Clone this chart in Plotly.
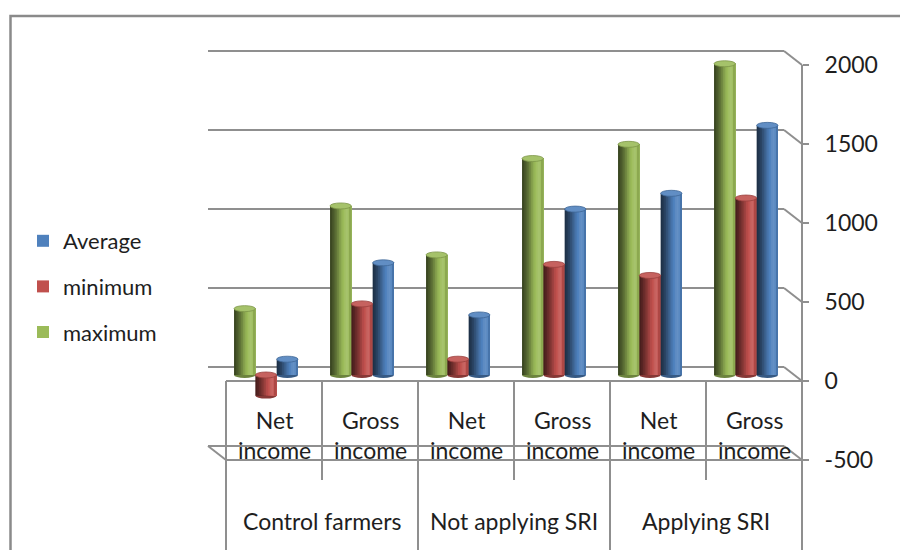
import plotly.graph_objects as go

# ---- data -------------------------------------------------------------
GROUPS = ["Control farmers", "Not applying SRI", "Applying SRI"]
ITEMS = ["Net income", "Gross income", "Net income", "Gross income", "Net income", "Gross income"]
maximum = [420, 1070, 760, 1370, 1460, 1970]
minimum = [-130, 450, 100, 700, 630, 1120]
average = [100, 710, 380, 1050, 1150, 1580]
TICKS = [-500, 0, 500, 1000, 1500, 2000]

SERIES = [
    ("maximum", maximum, "#9BBB59", 3),
    ("minimum", minimum, "#C0504D", 2),
    ("Average", average, "#4F81BD", 1),
]

# ---- geometry of the pseudo-3D box (pixels) ---------------------------
W, H = 900, 550
PX = 79 / 500            # pixels per value unit (vertical)
CELL = 96                # pixels per category
FRONT_X0 = 226           # left edge of the front plane
BAR_X0 = 218             # left edge of the bar plane (mid depth)
FRONT_ZERO, BAR_ZERO = 381, 375
DX = 18 / CELL           # depth of the box, in category units
DY = 14 / PX             # depth of the box, in value units

GRID = "#8f8f8f"
TXT = "#1e1e1e"
FONT = "Lato"
FS = 23
N = len(ITEMS)
pos = list(range(N))


def ydom(zero_px, lo, hi):
    return [(H - (zero_px - lo * PX)) / H, (H - (zero_px - hi * PX)) / H]


def shade(hexcol, f):
    r, g, b = (int(hexcol[i:i + 2], 16) for i in (1, 3, 5))
    if f <= 1:
        r, g, b = r * f, g * f, b * f
    else:
        t = f - 1
        r, g, b = r + (255 - r) * t, g + (255 - g) * t, b + (255 - b) * t
    return "rgb(%d,%d,%d)" % (round(r), round(g), round(b))


fig = go.Figure()
shapes = []

# ---- box frame: back wall gridlines, side connectors, front table ------
front_lo = -(H - FRONT_ZERO) / PX
row_bottom = -(480 - FRONT_ZERO) / PX
line = dict(color=GRID, width=2)


def fline(x0, y0, x1, y1):
    shapes.append(dict(type="line", xref="x", yref="y", layer="below",
                       x0=x0, y0=y0, x1=x1, y1=y1, line=line))


for t in TICKS:
    fline(-0.5 - DX, t + DY, N - 0.5 - DX, t + DY)     # back wall
    fline(N - 0.5 - DX, t + DY, N - 0.5, t)             # side wall
fline(-0.5 - DX, TICKS[0] + DY, -0.5, TICKS[0])         # floor edge
fline(-0.5, 0, N - 0.5, 0)
fline(-0.5, -500, N - 0.5, -500)
for b in [0.5, 2.5, 4.5]:
    fline(b, 0, b, row_bottom)
for b in [-0.5, 1.5, 3.5]:
    fline(b, 0, b, front_lo)
fline(N - 0.5, TICKS[-1], N - 0.5, front_lo)

# chart border
shapes.append(dict(type="rect", xref="paper", yref="paper", layer="below",
                   x0=10.5 / W, x1=1.05, y0=-0.05, y1=(H - 16) / H,
                   line=dict(color="#8a8a8a", width=2.5)))

# ---- cylinders: stacked vertical strips give the rounded shading -------
BW = 0.222
PROFILE = [0.38, 0.45, 0.53, 0.62, 0.72, 0.83, 0.93, 1.0, 1.08, 1.12, 1.06, 0.90]
NS = len(PROFILE)
E = 19  # half height of the cylinder caps, value units
for si, (name, vals, col, rank) in enumerate(SERIES):
    off = (si - 1.5) * BW
    for k, f in enumerate(PROFILE):
        fig.add_trace(go.Bar(
            x=pos, y=vals, xaxis="x2", yaxis="y2",
            offset=off + k * BW / NS, width=BW * (NS - k) / NS,
            marker=dict(color=shade(col, f), line=dict(width=0)),
            name=name, legendgroup=name, legendrank=rank, showlegend=(f == 1.0),
            hoverinfo="skip" if f != 1.0 else None,
        ))
    for i, v in enumerate(vals):
        top, bot = max(v, 0), min(v, 0)
        shapes.append(dict(type="circle", xref="x2", yref="y2", layer="below",
                           x0=i + off, x1=i + off + BW, y0=bot - E, y1=bot + E,
                           fillcolor=shade(col, 0.7), line=dict(width=0)))
        shapes.append(dict(type="circle", xref="x2", yref="y2", layer="above",
                           x0=i + off, x1=i + off + BW, y0=top - E, y1=top + E,
                           fillcolor=shade(col, 1.1), line=dict(color=shade(col, 0.8), width=0.8)))

# ---- category labels ---------------------------------------------------
ann = []
item_y = -(435 - FRONT_ZERO) / PX
group_y = -(521 - FRONT_ZERO) / PX
for i, it in enumerate(ITEMS):
    ann.append(dict(x=i, y=item_y, xref="x", yref="y", showarrow=False,
                    text=it.replace(" ", "<br>"), font=dict(family=FONT, size=FS, color=TXT)))
for g, name in enumerate(GROUPS):
    ann.append(dict(x=2 * g + 0.5, y=group_y, xref="x", yref="y", showarrow=False,
                    text=name, font=dict(family=FONT, size=FS, color=TXT)))

PAD = 0.4
fig.update_layout(
    width=W, height=H, margin=dict(l=0, r=0, t=0, b=0), autosize=False,
    paper_bgcolor="white", plot_bgcolor="rgba(0,0,0,0)",
    barmode="overlay", shapes=shapes, annotations=ann,
    font=dict(family=FONT, color=TXT),
    # front plane with the value axis
    xaxis=dict(domain=[(FRONT_X0 - PAD * CELL) / W, (FRONT_X0 + (N + PAD) * CELL) / W],
               range=[-0.5 - PAD, N - 0.5 + PAD], visible=False),
    yaxis=dict(domain=ydom(FRONT_ZERO, front_lo, 2150), range=[front_lo, 2150],
               anchor="free", position=(FRONT_X0 + N * CELL) / W, side="right",
               tickvals=TICKS, ticktext=[str(t) for t in TICKS],
               ticks="outside", ticklen=6, tickwidth=2, tickcolor=GRID,
               ticklabelstandoff=11, showgrid=False, zeroline=False, showline=False,
               tickfont=dict(family=FONT, size=FS, color=TXT)),
    # bars at mid depth
    xaxis2=dict(domain=[BAR_X0 / W, (BAR_X0 + N * CELL) / W], range=[-0.5, N - 0.5],
                visible=False, anchor="y2"),
    yaxis2=dict(domain=ydom(BAR_ZERO, -500, 2000), range=[-500, 2000], visible=False,
                anchor="x2"),
    legend=dict(x=23 / W, xanchor="left", y=(H - 220) / H, yanchor="top",
                traceorder="grouped", tracegroupgap=14,
                font=dict(family=FONT, size=FS - 1, color=TXT), bgcolor="rgba(0,0,0,0)"),
)

fig.write_html("out.html")
